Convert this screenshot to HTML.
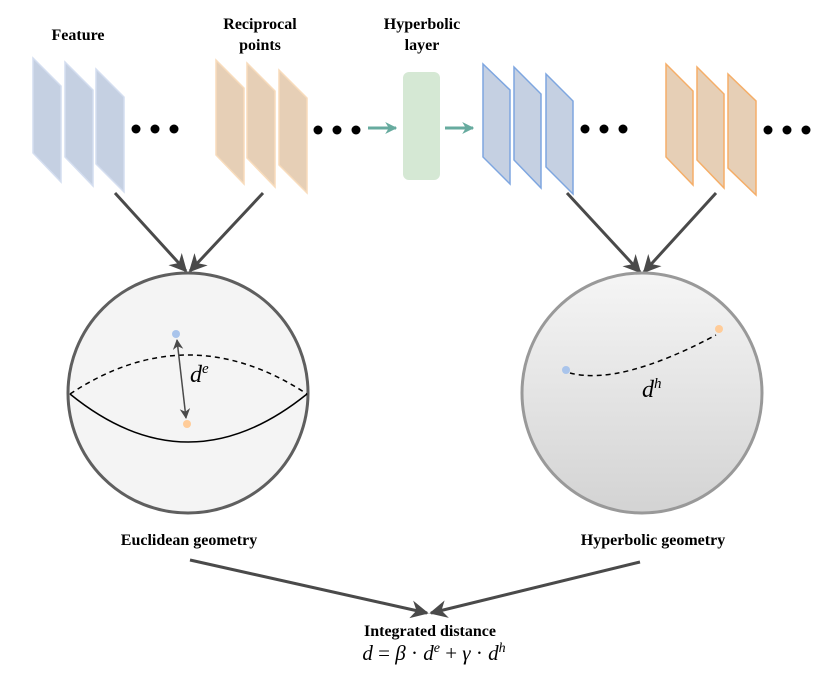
<!DOCTYPE html>
<html><head><meta charset="utf-8"><style>
html,body{margin:0;padding:0;background:#fff}
svg{display:block}
.t{font-family:"Liberation Serif",serif;font-weight:bold;font-size:16px;fill:#000}
.m{font-family:"Liberation Serif",serif;font-style:italic;fill:#000}
</style></head><body>
<svg width="831" height="679" viewBox="0 0 831 679" xmlns="http://www.w3.org/2000/svg">
<defs>
<linearGradient id="g" x1="0" y1="0" x2="0" y2="1"><stop offset="0" stop-color="#f5f5f5"/><stop offset="1" stop-color="#d3d3d3"/></linearGradient>
<marker id="ah" viewBox="0 0 10 10" refX="9" refY="5" markerWidth="6" markerHeight="6" orient="auto-start-reverse"><path d="M0,0 L10,5 L0,10 L3,5 z" fill="#4a4a4a"/></marker>
<marker id="ag" viewBox="0 0 10 10" refX="9" refY="5" markerWidth="4" markerHeight="4" orient="auto"><path d="M0,0 L10,5 L0,10 L3,5 z" fill="#67ab9f"/></marker>
<marker id="as" viewBox="0 0 10 10" refX="9" refY="5" markerWidth="7" markerHeight="7" orient="auto-start-reverse"><path d="M0,0 L10,5 L0,10 L3,5 z" fill="#4a4a4a"/></marker>
</defs>

<text class="t" x="78" y="40" text-anchor="middle">Feature</text>
<text class="t" x="260" y="29" text-anchor="middle">Reciprocal</text>
<text class="t" x="260" y="50" text-anchor="middle">points</text>
<text class="t" x="422" y="29" text-anchor="middle">Hyperbolic</text>
<text class="t" x="422" y="50" text-anchor="middle">layer</text>

<g fill="#c5d0e2" stroke="#d4def0" stroke-width="1.5">
<path d="M33,58 L61,86 L61,182 L33,153 Z"/>
<path d="M65,62 L93,90 L93,186 L65,157 Z"/>
<path d="M96,69 L124,97 L124,192 L96,164 Z"/>
</g>
<g fill="#e6cfb6" stroke="#f8dcbc" stroke-width="1.5">
<path d="M216,60 L244,88 L244,184 L216,155 Z"/>
<path d="M247,63 L275,91 L275,187 L247,158 Z"/>
<path d="M279,70 L307,98 L307,193 L279,165 Z"/>
</g>
<g fill="#c5d0e2" stroke="#7ea6e0" stroke-width="1.5">
<path d="M483,64 L510,90 L510,184 L483,157 Z"/>
<path d="M514,67 L541,94 L541,188 L514,160 Z"/>
<path d="M546,74 L573,101 L573,194 L546,167 Z"/>
</g>
<g fill="#e6cfb6" stroke="#f5ae68" stroke-width="1.5">
<path d="M666,64 L693,91 L693,185 L666,157 Z"/>
<path d="M697,67 L724,94 L724,188 L697,160 Z"/>
<path d="M728,74 L756,101 L756,195 L728,168 Z"/>
</g>
<g fill="#000">
<circle cx="136" cy="129" r="4.5"/><circle cx="155" cy="129" r="4.5"/><circle cx="174" cy="129" r="4.5"/>
<circle cx="318" cy="130" r="4.5"/><circle cx="337" cy="130" r="4.5"/><circle cx="356" cy="130" r="4.5"/>
<circle cx="585" cy="129" r="4.5"/><circle cx="604" cy="129" r="4.5"/><circle cx="623" cy="129" r="4.5"/>
<circle cx="768" cy="130" r="4.5"/><circle cx="787" cy="130" r="4.5"/><circle cx="806" cy="130" r="4.5"/>
</g>
<rect x="403" y="72" width="37" height="108" rx="6" fill="#d5e8d4"/>
<line x1="368" y1="128" x2="396" y2="128" stroke="#67ab9f" stroke-width="3" marker-end="url(#ag)"/>
<line x1="445" y1="128" x2="473" y2="128" stroke="#67ab9f" stroke-width="3" marker-end="url(#ag)"/>

<g stroke="#4a4a4a" stroke-width="3" fill="none">
<line x1="115" y1="193" x2="186" y2="271" marker-end="url(#ah)"/>
<line x1="263" y1="193" x2="190" y2="271" marker-end="url(#ah)"/>
<line x1="567" y1="193" x2="640" y2="272" marker-end="url(#ah)"/>
<line x1="716" y1="193" x2="644" y2="272" marker-end="url(#ah)"/>
<line x1="190" y1="560" x2="427" y2="613" marker-end="url(#ah)"/>
<line x1="640" y1="562" x2="431" y2="613" marker-end="url(#ah)"/>
</g>

<circle cx="188" cy="393" r="120" fill="#f4f4f4" stroke="#5f5f5f" stroke-width="3"/>
<path d="M70,394 Q188,316 307,394" fill="none" stroke="#000" stroke-width="1.5" stroke-dasharray="5,4"/>
<path d="M70,394 Q188,490 307,394" fill="none" stroke="#000" stroke-width="1.5"/>
<circle cx="176" cy="334" r="4" fill="#a9c4eb"/>
<circle cx="187" cy="424" r="4" fill="#ffcc99"/>
<line x1="177" y1="340" x2="186" y2="418" stroke="#4a4a4a" stroke-width="1.5" marker-start="url(#as)" marker-end="url(#as)"/>
<text class="m" x="190" y="382" font-size="24">d<tspan font-size="15" dy="-9">e</tspan></text>

<circle cx="642" cy="393" r="120" fill="url(#g)" stroke="#999" stroke-width="3"/>
<path d="M570,373 Q620,386 716,335" fill="none" stroke="#000" stroke-width="1.5" stroke-dasharray="5,4"/>
<circle cx="566" cy="370" r="4" fill="#a9c4eb"/>
<circle cx="719" cy="329" r="4" fill="#ffcc99"/>
<text class="m" x="642" y="397" font-size="24">d<tspan font-size="15" dy="-9">h</tspan></text>

<text class="t" x="189" y="545" text-anchor="middle">Euclidean geometry</text>
<text class="t" x="653" y="545" text-anchor="middle">Hyperbolic geometry</text>
<text class="t" x="430" y="636" text-anchor="middle">Integrated distance</text>
<text class="m" x="434" y="660" font-size="21" text-anchor="middle">d <tspan font-style="normal">=</tspan> β <tspan font-style="normal">·</tspan> d<tspan font-size="14" dy="-8">e</tspan><tspan dy="8" font-style="normal"> + </tspan>γ <tspan font-style="normal">·</tspan> d<tspan font-size="14" dy="-8">h</tspan></text>
</svg>
</body></html>
